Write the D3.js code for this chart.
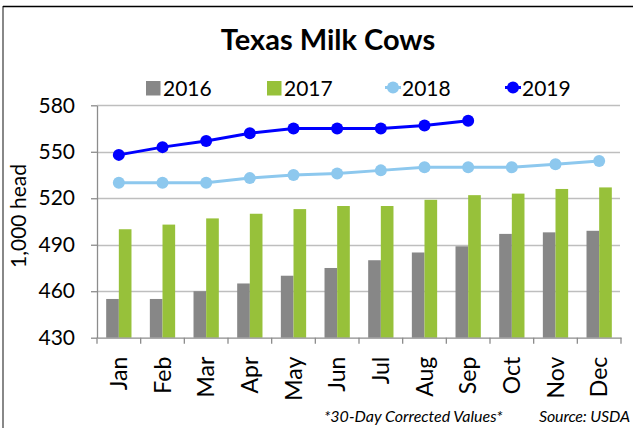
<!DOCTYPE html>
<html><head><meta charset="utf-8">
<script src="https://cdn.jsdelivr.net/npm/d3@7"></script>
<style>body{margin:0;background:#fff}svg{display:block}text{font-family:Lato,"Open Sans",sans-serif}</style>
</head><body>
<svg id="c" width="633" height="428"></svg>
<script>
const months = ["Jan","Feb","Mar","Apr","May","Jun","Jul","Aug","Sep","Oct","Nov","Dec"];
const yTicks = [430,460,490,520,550,580];
const s2016 = [455,455,460,465,470,475,480,485,489,497,498,499];
const s2017 = [500,503,507,510,513,515,515,519,522,523,526,527];
const s2018 = [530,530,530,533,535,536,538,540,540,540,542,544];
const s2019 = [548,553,557,562,565,565,565,567,570];
const legendLabels = ["2016","2017","2018","2019"];

const colors = {g16:"#878787", g17:"#97C13A", l18:"#8DC8EE", l19:"#0000FF", grid:"#BEBEBE", axis:"#8C8C8C"};
const svg = d3.select("#c");

// frame
svg.append("line").attr("x1",3).attr("x2",3).attr("y1",6).attr("y2",428).attr("stroke","#888").attr("stroke-width",2);
svg.append("line").attr("x1",3).attr("x2",633).attr("y1",6.5).attr("y2",6.5).attr("stroke","#000").attr("stroke-width",1.5);

const L=97, R=621, T=105.3, B=337.7;
const x = d3.scaleBand().domain(months).range([L,R]).paddingInner(0).paddingOuter(0);
const x1 = d3.scaleBand().domain(["2016","2017"]).range([0,x.bandwidth()]).paddingInner(0).paddingOuter(0.726);
const y = d3.scaleLinear().domain([430,580]).range([B,T]);

// gridlines
svg.append("g").selectAll("line").data(yTicks.slice(1)).join("line")
  .attr("x1",L).attr("x2",R-1).attr("y1",d=>Math.round(y(d))+0.5).attr("y2",d=>Math.round(y(d))+0.5)
  .attr("stroke",colors.grid).attr("stroke-width",1.3);

// bars
const gb = svg.append("g");
gb.selectAll("rect.b16").data(s2016).join("rect")
  .attr("x",(d,i)=>x(months[i])+x1("2016")).attr("width",x1.bandwidth())
  .attr("y",d=>y(d)).attr("height",d=>y(430)-y(d)).attr("fill",colors.g16);
gb.selectAll("rect.b17").data(s2017).join("rect").attr("class","b17")
  .attr("x",(d,i)=>x(months[i])+x1("2017")).attr("width",x1.bandwidth())
  .attr("y",d=>y(d)).attr("height",d=>y(430)-y(d)).attr("fill",colors.g17);

// axes
const ya = svg.append("g").attr("transform",`translate(${L},0)`)
  .call(d3.axisLeft(y).tickValues(yTicks).tickSize(6).tickSizeOuter(0).tickPadding(16));
ya.select(".domain").attr("stroke",colors.axis).attr("stroke-width",1.3);
ya.selectAll(".tick line").attr("stroke",colors.axis).attr("stroke-width",1.3);
ya.selectAll(".tick text").attr("font-size",21).attr("fill","#000").attr("font-family","Lato,sans-serif");

const xa = svg.append("g").attr("transform",`translate(0,${B})`)
  .call(d3.axisBottom(x).tickSize(0).tickSizeOuter(0).tickPadding(12));
xa.select(".domain").attr("stroke",colors.axis).attr("stroke-width",1.3);
xa.selectAll(".tick text").attr("font-size",23).attr("fill","#000").attr("font-family","Lato,sans-serif")
  .attr("transform","rotate(-90)").attr("text-anchor","end").attr("dy","0.36em").attr("y",0).attr("x",-19);
const bounds = months.map(m=>x(m)).concat([x(months[11])+x.bandwidth()]);
xa.append("g").selectAll("line").data(bounds).join("line")
  .attr("x1",d=>d).attr("x2",d=>d).attr("y1",0).attr("y2",6).attr("stroke",colors.axis).attr("stroke-width",1.3);

// lines
function drawLine(data,color){
  const cx=(d,i)=>x(months[i])+x.bandwidth()/2;
  svg.append("path").datum(data).attr("fill","none").attr("stroke",color).attr("stroke-width",3)
    .attr("d",d3.line().x(cx).y(d=>y(d)));
  svg.append("g").selectAll("circle").data(data).join("circle")
    .attr("cx",cx).attr("cy",d=>y(d)).attr("r",6).attr("fill",color);
}
drawLine(s2018,colors.l18);
drawLine(s2019,colors.l19);

// title
svg.append("text").attr("x",328).attr("y",49.5).attr("text-anchor","middle")
  .attr("font-size",29).attr("font-weight","bold").attr("fill","#000").text("Texas Milk Cows");

// legend
const lg = svg.append("g");
const lx = [146,267,385,505];
const lc = [colors.g16,colors.g17,colors.l18,colors.l19];
legendLabels.forEach((t,i)=>{
  if(i<2){
    lg.append("rect").attr("x",lx[i]).attr("y",81).attr("width",14.5).attr("height",14.5).attr("fill",lc[i]);
  } else {
    lg.append("line").attr("x1",lx[i]).attr("x2",lx[i]+16).attr("y1",87.5).attr("y2",87.5).attr("stroke",lc[i]).attr("stroke-width",3);
    lg.append("circle").attr("cx",lx[i]+8).attr("cy",87.5).attr("r",6).attr("fill",lc[i]);
  }
  lg.append("text").attr("x",lx[i]+17).attr("y",96).attr("font-size",21).attr("fill","#000").text(t);
});

// y title
svg.append("text").attr("transform","translate(26,216) rotate(-90)").attr("text-anchor","middle")
  .attr("font-size",21).attr("fill","#000").text("1,000 head");

// footnotes
svg.append("text").attr("x",324).attr("y",421.5).attr("font-size",16).attr("font-style","italic").attr("fill","#000").text("*30-Day Corrected Values*");
svg.append("text").attr("x",539).attr("y",421.5).attr("font-size",16).attr("font-style","italic").attr("fill","#000")
  .attr("textLength",91).attr("lengthAdjust","spacing").text("Source: USDA");
</script>
</body></html>
